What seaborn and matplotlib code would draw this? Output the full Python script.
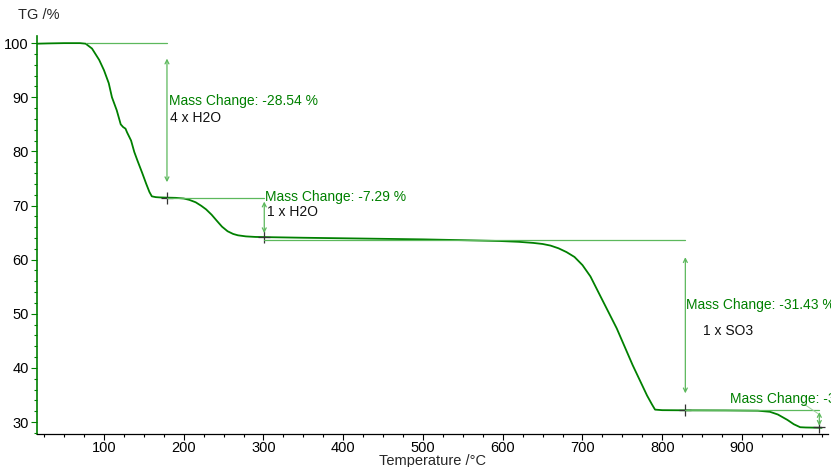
import numpy as np
import matplotlib
matplotlib.use("Agg")
import matplotlib.pyplot as plt
from matplotlib.ticker import MultipleLocator
import seaborn as sns
import pandas as pd

# TG curve
temp = [16, 30, 50, 70, 77, 85, 94, 100, 106, 110, 116, 121, 124, 127, 129, 132, 134, 138,
        142, 148, 153, 157, 160, 165, 170, 179, 190, 200, 207, 215, 222, 228, 235, 242, 248,
        255, 262, 268, 278, 290, 301, 350, 400, 450, 500, 550, 596, 620, 638, 650, 660, 670,
        680, 690, 700, 710, 722, 743, 763, 781, 787, 791, 800, 830, 880, 920, 935, 945, 957,
        965, 973, 980, 1000]
tg = [99.9, 99.95, 100.0, 100.0, 99.9, 99.0, 96.9, 95.0, 92.6, 90.0, 87.6, 85.0, 84.5, 84.2,
      83.5, 82.6, 82.0, 79.9, 78.3, 76.0, 74.0, 72.5, 71.7, 71.55, 71.5, 71.46, 71.42, 71.3,
      71.05, 70.6, 69.95, 69.3, 68.3, 67.1, 66.1, 65.25, 64.75, 64.5, 64.3, 64.2, 64.17, 64.05,
      63.95, 63.85, 63.75, 63.6, 63.45, 63.3, 63.1, 62.9, 62.6, 62.1, 61.4, 60.5, 59.0, 56.9,
      53.4, 47.3, 40.5, 34.9, 33.3, 32.3, 32.2, 32.17, 32.15, 32.1, 31.9, 31.4, 30.4, 29.6,
      29.05, 29.0, 28.95]

# mass change steps
step_start = [77, 179, 301, 829]
step_temp = [179, 301, 829, 997]
step_top = [100.0, 71.46, 63.6, 32.17]
step_bottom = [71.46, 64.17, 32.17, 29.0]
step_change = ["-28.54", "-7.29", "-31.43", "-3.17"]
step_species = ["4 x H2O", "1 x H2O", "1 x SO3", ""]

x_ticks = [100, 200, 300, 400, 500, 600, 700, 800, 900]

df = pd.DataFrame({"Temperature": temp, "TG": tg})

sns.set_style("ticks")
plt.rcParams["font.family"] = ["Liberation Sans", "DejaVu Sans"]
plt.rcParams["font.size"] = 10

green = "#008000"
light = "#5cb85c"

fig = plt.figure(figsize=(8.31, 4.67), dpi=100)
ax = fig.add_axes([0.0445, 0.0707, 0.952, 0.852])

sns.lineplot(data=df, x="Temperature", y="TG", sort=False, color=green, lw=1.3, ax=ax)

# text positions (data coords) for each step label
lab_pos = [(181, 89.3), (302, 71.5), (830, 51.6), (885, 34.2)]
spec_pos = [(183, 86.1), (304, 68.8), (851, 46.8), (0, 0)]

for i in range(len(step_temp)):
    x = step_temp[i]
    top, bot = step_top[i], step_bottom[i]
    gap = 0.1 * (top - bot)
    ax.plot([step_start[i], x], [top, top], color=light, lw=0.9)
    ax.annotate("", xy=(x, bot + gap), xytext=(x, top - gap),
                arrowprops=dict(arrowstyle="<->", color=light, lw=0.9,
                                shrinkA=0, shrinkB=0, mutation_scale=7))
    ax.plot([x], [bot], marker="+", ms=9, mew=0.9, color="#333333")
    ax.text(lab_pos[i][0], lab_pos[i][1], "Mass Change: %s %%" % step_change[i],
            color=green, fontsize=10, va="center", ha="left", clip_on=False)
    if step_species[i]:
        ax.text(spec_pos[i][0], spec_pos[i][1], step_species[i], color="#111111",
                fontsize=10, va="center", ha="left")

# leader line of the last label
ax.plot([975, 995], [33.6, 31.6], color="#9ccf9c", lw=0.7)

ax.set_xlim(16, 1008)
ax.set_ylim(27.8, 101.3)
ax.set_xticks(x_ticks)
ax.xaxis.set_minor_locator(MultipleLocator(25))
ax.yaxis.set_major_locator(MultipleLocator(10))
ax.yaxis.set_minor_locator(MultipleLocator(2))
ax.tick_params(axis="x", which="major", length=4, width=0.8, colors="black", labelsize=10.5, pad=1)
ax.tick_params(axis="x", which="minor", length=2.5, width=0.8, colors="black")
ax.tick_params(axis="y", which="major", length=4, width=0.8, color=green, labelcolor="black",
               labelsize=10.5, pad=2)
ax.tick_params(axis="y", which="minor", length=2.5, width=0.8, color=green)

sns.despine(ax=ax)
ax.spines["left"].set_color(green)
ax.spines["left"].set_linewidth(1.2)
ax.spines["bottom"].set_color("black")
ax.spines["bottom"].set_linewidth(0.9)

ax.set_xlabel("Temperature /°C", fontsize=10.5, labelpad=-0.5)
ax.set_ylabel("")
fig.text(18 / 831, 1 - 15 / 467, "TG /%", fontsize=10.5, va="center", ha="left")

fig.savefig("out.png", dpi=100)
